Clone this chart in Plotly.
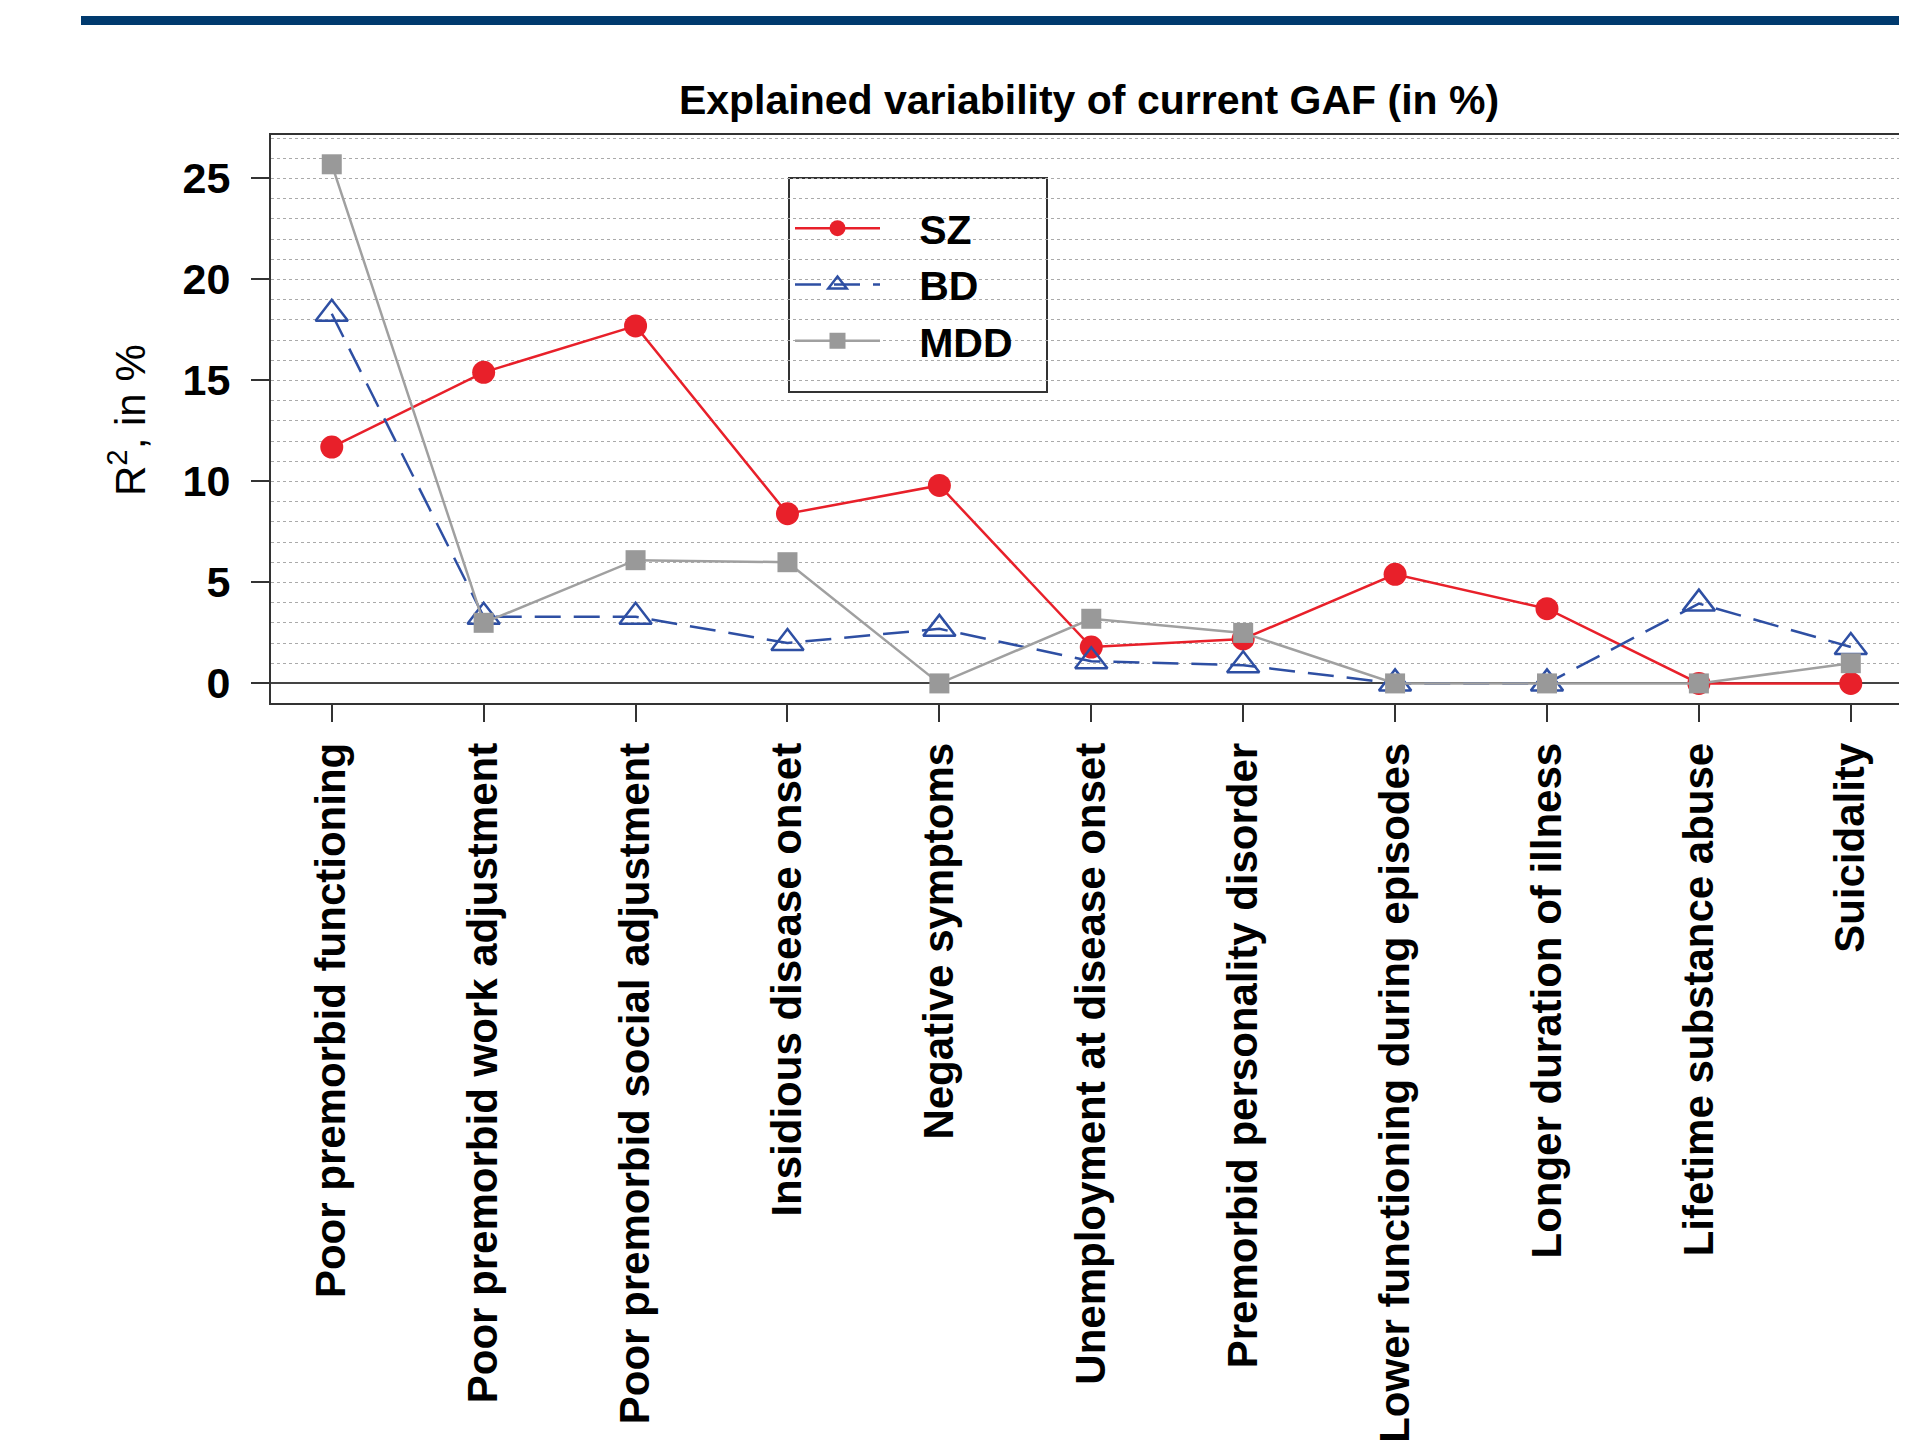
import plotly.graph_objects as go

categories = [
    "Poor premorbid functioning",
    "Poor premorbid work adjustment",
    "Poor premorbid social adjustment",
    "Insidious disease onset",
    "Negative symptoms",
    "Unemployment at disease onset",
    "Premorbid personality disorder",
    "Lower functioning during episodes",
    "Longer duration of illness",
    "Lifetime substance abuse",
    "Suicidality",
]
series_names = ["SZ", "BD", "MDD"]
sz_values = [11.7, 15.4, 17.7, 8.4, 9.8, 1.8, 2.2, 5.4, 3.7, 0.0, 0.0]
bd_values = [18.3, 3.3, 3.3, 2.0, 2.7, 1.1, 0.9, 0.0, 0.0, 3.95, 1.8]
mdd_values = [25.7, 3.0, 6.1, 6.0, 0.0, 3.2, 2.5, 0.0, 0.0, 0.0, 1.0]
y_ticks = [0, 5, 10, 15, 20, 25]

x_pos = list(range(1, len(categories) + 1))
FONT = "Arial, Liberation Sans, sans-serif"
NB = "\u00a0"

# figure geometry (page body has an 8px margin)
W, H = 1899, 1438
L, T = 263, 127
PLOT_BOTTOM = 695
B = H - PLOT_BOTTOM
plot_w = W - L
plot_h = PLOT_BOTTOM - T


def px_x(x):
    return (x - L) / plot_w


def px_y(y):
    return (PLOT_BOTTOM - y) / plot_h


fig = go.Figure()
fig.add_trace(go.Scatter(
    x=x_pos, y=sz_values, name="<b>%s%s</b>" % (NB * 3, series_names[0]),
    mode="lines+markers",
    line=dict(color="#e8202a", width=2.5),
    marker=dict(symbol="circle", size=23, color="#e8202a"),
))
fig.add_trace(go.Scatter(
    x=x_pos, y=bd_values, name="<b>%s%s</b>" % (NB * 3, series_names[1]),
    mode="lines+markers",
    line=dict(color="#2e4fa3", width=2.5, dash="26px,13px"),
    marker=dict(symbol="triangle-up-open", size=28, color="#2e4fa3",
                line=dict(width=2.5, color="#2e4fa3")),
))
fig.add_trace(go.Scatter(
    x=x_pos, y=mdd_values, name="<b>%s%s</b>" % (NB * 3, series_names[2]),
    mode="lines+markers",
    line=dict(color="#a0a0a0", width=2.5),
    marker=dict(symbol="square", size=20, color="#999999"),
))

fig.update_layout(
    width=W, height=H,
    margin=dict(l=L, r=0, t=T, b=B, pad=0),
    paper_bgcolor="white", plot_bgcolor="white",
    font=dict(family=FONT, color="black"),
    showlegend=True,
    title=dict(text="<b>Explained variability of current GAF (in %)</b>",
               x=0.5, xref="paper", y=1 - 92 / H, yref="container",
               xanchor="center", yanchor="middle",
               font=dict(size=41, family=FONT, color="black")),
    legend=dict(
        x=px_x(782), y=px_y(187),
        xanchor="left", yanchor="top",
        borderwidth=0, bgcolor="rgba(0,0,0,0)",
        font=dict(size=41, family=FONT, color="black"),
        itemwidth=85,
    ),
    xaxis=dict(
        range=[0.6, 11.37], tickmode="array", tickvals=x_pos,
        ticktext=["<b>%s</b>" % c for c in categories],
        tickangle=-90, ticks="outside", ticklen=17, tickwidth=1.5,
        tickcolor="#333333", showline=True, linecolor="#333333",
        linewidth=2, mirror=True, showgrid=False, zeroline=False,
        tickfont=dict(size=42, family=FONT, color="black"),
        ticklabelstandoff=4,
    ),
    yaxis=dict(
        range=[-0.97, 27.15], tickmode="array", tickvals=y_ticks,
        ticktext=["<b>%d</b>" % v for v in y_ticks],
        ticks="outside", ticklen=18, tickwidth=2, tickcolor="#333333",
        showline=True, linecolor="#333333", linewidth=2, mirror=False,
        showgrid=True, gridcolor="#aaaaaa", griddash="dot", gridwidth=1,
        minor=dict(dtick=1, tick0=0, showgrid=True, gridcolor="#aaaaaa",
                   griddash="dot", gridwidth=1),
        zeroline=True, zerolinecolor="#444444", zerolinewidth=1.5,
        tickfont=dict(size=43, family=FONT, color="black"),
        ticklabelstandoff=12,
    ),
)

# y-axis title
fig.add_annotation(
    text="R<sup>2</sup>, in %", textangle=-90,
    xref="paper", yref="paper",
    x=px_x(119), y=px_y(412),
    xanchor="center", yanchor="middle", showarrow=False,
    font=dict(size=42, family=FONT, color="black"),
)

# legend frame (white box hiding the grid, below the traces)
fig.add_shape(
    type="rect", xref="paper", yref="paper",
    x0=px_x(781), x1=px_x(1039), y0=px_y(384), y1=px_y(170),
    fillcolor="white", line=dict(color="#333333", width=2),
    layer="between",
)

# header bar
fig.add_shape(
    type="rect", xref="paper", yref="paper",
    x0=px_x(73), x1=1.0, y0=px_y(17), y1=px_y(8),
    fillcolor="#003a6e", line=dict(width=0), layer="above",
)

fig.write_html("out.html")
